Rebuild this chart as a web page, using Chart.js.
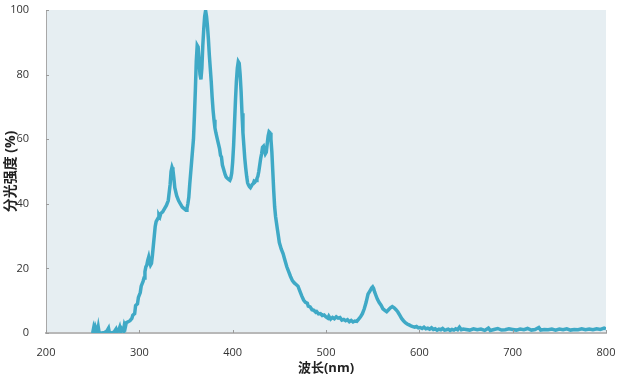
<!DOCTYPE html>
<html>
<head>
<meta charset="utf-8">
<script src="https://cdn.jsdelivr.net/npm/chart.js@4/dist/chart.umd.min.js"></script>
<style>
  html, body { margin: 0; padding: 0; background: #fff; }
  #wrap { width: 618px; height: 388px; }
</style>
</head>
<body>
<div id="wrap"><canvas id="canvas"></canvas></div>
<script>
var xTicks = [200, 300, 400, 500, 600, 700, 800];
var yTicks = [0, 20, 40, 60, 80, 100];

var wavelength = [
    250, 251, 252, 253, 255, 256, 257, 260, 263, 265, 267, 268, 270, 273, 275, 276, 278, 279, 280, 281,
    283, 284, 285, 286, 288, 290, 292, 293, 295, 296, 298, 299, 301, 302, 304, 305, 306, 307, 308, 309,
    310, 311, 312, 313, 314, 315, 316, 317, 318, 319, 320, 321, 322, 323, 325, 327, 329, 331, 333, 334,
    335, 336, 337, 338, 340, 342, 344, 346, 348, 350, 351, 352, 353, 354, 356, 358, 359, 360, 361, 362,
    363, 364, 365, 366, 367, 368, 369, 370, 371, 372, 373, 374, 375, 376, 377, 378, 379, 380, 381, 382,
    384, 386, 387, 388, 389, 390, 391, 392, 393, 394, 396, 397, 398, 399, 400, 401, 402, 403, 404, 405,
    406, 407, 408, 409, 410, 411, 412, 413, 414, 415, 416, 417, 418, 419, 420, 421, 422, 423, 424, 425,
    426, 427, 428, 429, 430, 431, 432, 433, 434, 435, 436, 437, 438, 439, 440, 441, 442, 443, 444, 445,
    446, 447, 448, 449, 450, 452, 454, 456, 458, 460, 462, 464, 466, 468, 470, 472, 474, 476, 478, 480,
    481, 483, 485, 487, 489, 490, 492, 494, 496, 498, 500, 502, 503, 505, 507, 509, 511, 513, 515, 517,
    519, 521, 523, 525, 527, 529, 531, 533, 535, 537, 539, 541, 543, 545, 547, 549, 550, 551, 552, 553,
    555, 557, 559, 561, 563, 565, 567, 569, 571, 573, 575, 577, 579, 581, 583, 585, 587, 589, 591, 593,
    595, 597, 599, 601, 603, 605, 607, 609, 611, 613, 615, 617, 619, 621, 623, 625, 627, 629, 631, 633,
    635, 637, 639, 641, 643, 645, 647, 650, 654, 658, 662, 666, 670, 674, 676, 680, 684, 688, 692, 696,
    700, 704, 708, 712, 716, 720, 724, 728, 730, 734, 738, 742, 746, 750, 754, 758, 762, 766, 770, 774,
    778, 782, 786, 790, 794, 798, 800
];

var intensity = [
    0, 1.5, 0.3, 1.8, 0.2, 1.8, 0, 0, 0.2, 0.5, 1.5, 0, 0, 0.3, 1.2, 0.2, 1.0, 1.8, 0.5, 1.4,
    0.6, 2.5, 1.8, 3.2, 3.5, 3.8, 4.5, 5.5, 6.0, 8.5, 9.0, 11, 12.5, 14.5, 16, 17, 19, 20.5, 21, 22.5,
    23.5, 22, 21, 21.5, 24, 27, 30, 33, 34.5, 35, 35.5, 36.5, 36, 37, 37.5, 38.5, 39.5, 41, 46, 50,
    51.3, 50.5, 48, 45, 42.5, 41, 40, 39, 38.5, 38, 38.5, 40, 42, 46, 53, 60, 67, 75, 84, 89,
    88.5, 84, 80, 78.5, 82, 89, 94, 98, 99.8, 98, 95, 91, 86, 82, 78, 73, 69, 66, 63.5, 62,
    59.5, 57, 55, 54.5, 52, 51, 50, 49, 48.3, 48, 47.5, 47.3, 48, 49.5, 53, 58, 65, 72, 78, 82,
    84, 83.5, 80, 75, 68, 62, 58, 54, 51, 48.5, 46.5, 45.8, 45.3, 45, 45.5, 46, 46.2, 47, 46.8, 47.2,
    47.8, 48.5, 50, 52, 54, 55.5, 57.5, 57.8, 56.5, 55.5, 56, 58.5, 61, 62.3, 62, 60, 56, 50, 44, 39,
    36, 34, 32, 30, 28, 26, 24.6, 22.5, 20.5, 19, 17.5, 16.2, 15.5, 15, 14.5, 13, 11.5, 10.2, 9.5, 9.2,
    8.3, 8.1, 7.2, 7.0, 6.4, 6.6, 5.9, 6.0, 5.4, 5.6, 5.0, 4.6, 5.2, 4.3, 4.8, 4.4, 5.0, 4.6, 4.8, 4.0,
    4.2, 3.8, 4.1, 3.5, 3.9, 3.4, 3.7, 3.6, 4.3, 5.0, 6.0, 7.5, 9.5, 12, 13, 14, 14.3, 13.8, 12.8, 12,
    10.5, 9.4, 8.6, 7.5, 7, 6.6, 7.2, 7.8, 8.2, 7.8, 7.2, 6.5, 5.5, 4.5, 3.8, 3.2, 2.8, 2.5, 2.2, 2.0,
    1.8, 2.0, 1.6, 1.7, 1.4, 1.8, 1.3, 1.5, 1.2, 1.6, 1.1, 1.3, 0.9, 1.2, 1.0, 1.4, 0.9, 1.0, 1.2, 0.8,
    1.1, 0.9, 1.3, 1.0, 1.8, 1.0, 1.2, 1.1, 0.9, 1.3, 1.0, 1.2, 0.8, 1.5, 0.8, 1.1, 1.4, 0.9, 1.0, 1.3,
    1.1, 0.9, 1.2, 1.0, 1.4, 0.9, 1.1, 1.7, 0.9, 1.1, 1.0, 1.2, 0.9, 1.2, 1.0, 1.3, 0.9, 1.1, 1.0, 1.3,
    1.0, 1.2, 1.0, 1.3, 1.1, 1.5, 1.3
];

var points = wavelength.map(function(w, i) {
    return { x: w, y: intensity[i] };
});

var FONT = '"Open Sans", "Noto Sans CJK SC", sans-serif';

// plot area background + short inward tick marks
var plotDecor = {
    id: 'plotDecor',
    beforeDraw: function(chart) {
        var ctx = chart.ctx, a = chart.chartArea;
        ctx.save();
        ctx.fillStyle = '#e6eef2';
        ctx.fillRect(a.left, a.top, a.right - a.left, a.bottom - a.top);
        ctx.restore();
    },
    afterDatasetsDraw: function(chart) {
        var ctx = chart.ctx, a = chart.chartArea;
        var xs = chart.scales.x, ys = chart.scales.y;
        ctx.save();
        ctx.strokeStyle = '#9a9a9a';
        ctx.lineWidth = 1;
        ctx.beginPath();
        yTicks.forEach(function(v) {
            var py = Math.round(ys.getPixelForValue(v)) + 0.5;
            ctx.moveTo(a.left, py);
            ctx.lineTo(a.left + 3, py);
        });
        xTicks.forEach(function(v) {
            var px = Math.round(xs.getPixelForValue(v)) + 0.5;
            ctx.moveTo(px, a.bottom);
            ctx.lineTo(px, a.bottom - 3);
        });
        ctx.stroke();
        ctx.restore();
    }
};

var config = {
    type: 'line',
    data: {
        datasets: [{
            label: '分光强度',
            data: points,
            borderColor: '#3fa9c6',
            borderWidth: 3.5,
            pointRadius: 0,
            tension: 0,
            fill: false
        }]
    },
    options: {
        responsive: false,
        animation: false,
        layout: { padding: { top: 10, right: 12, left: 0, bottom: 0 } },
        plugins: {
            legend: { display: false },
            tooltip: { enabled: false }
        },
        scales: {
            x: {
                type: 'linear',
                min: 200,
                max: 800,
                afterBuildTicks: function(scale) {
                    scale.ticks = xTicks.map(function(v) { return { value: v }; });
                },
                afterFit: function(scale) {
                    scale.height = 55;
                    scale.paddingLeft = 0;
                    scale.paddingRight = 0;
                },
                grid: { display: false },
                border: { display: true, color: '#b8b8b8', width: 2 },
                ticks: { color: '#333', font: { family: FONT, size: 11 }, padding: 5, maxRotation: 0 },
                title: {
                    display: true,
                    text: '波长(nm)',
                    color: '#222',
                    font: { family: FONT, size: 13, weight: 'bold' },
                    padding: { top: 0, bottom: 12 }
                }
            },
            y: {
                min: 0,
                max: 100,
                afterBuildTicks: function(scale) {
                    scale.ticks = yTicks.map(function(v) { return { value: v }; });
                },
                afterFit: function(scale) {
                    scale.width = 46;
                    scale.paddingTop = 0;
                    scale.paddingBottom = 0;
                },
                grid: { display: false },
                border: { display: true, color: '#a8a8a8', width: 1 },
                ticks: { color: '#333', font: { family: FONT, size: 11 }, padding: 9 },
                title: {
                    display: true,
                    text: '分光强度 (%)',
                    color: '#222',
                    font: { family: FONT, size: 14, weight: 'bold' },
                    padding: { top: 3, bottom: 0 }
                }
            }
        }
    },
    plugins: [plotDecor]
};

window.onload = function() {
    var c = document.getElementById('canvas');
    c.width = 618;
    c.height = 388;
    window.myChart = new Chart(c, config);
};
</script>
</body>
</html>
